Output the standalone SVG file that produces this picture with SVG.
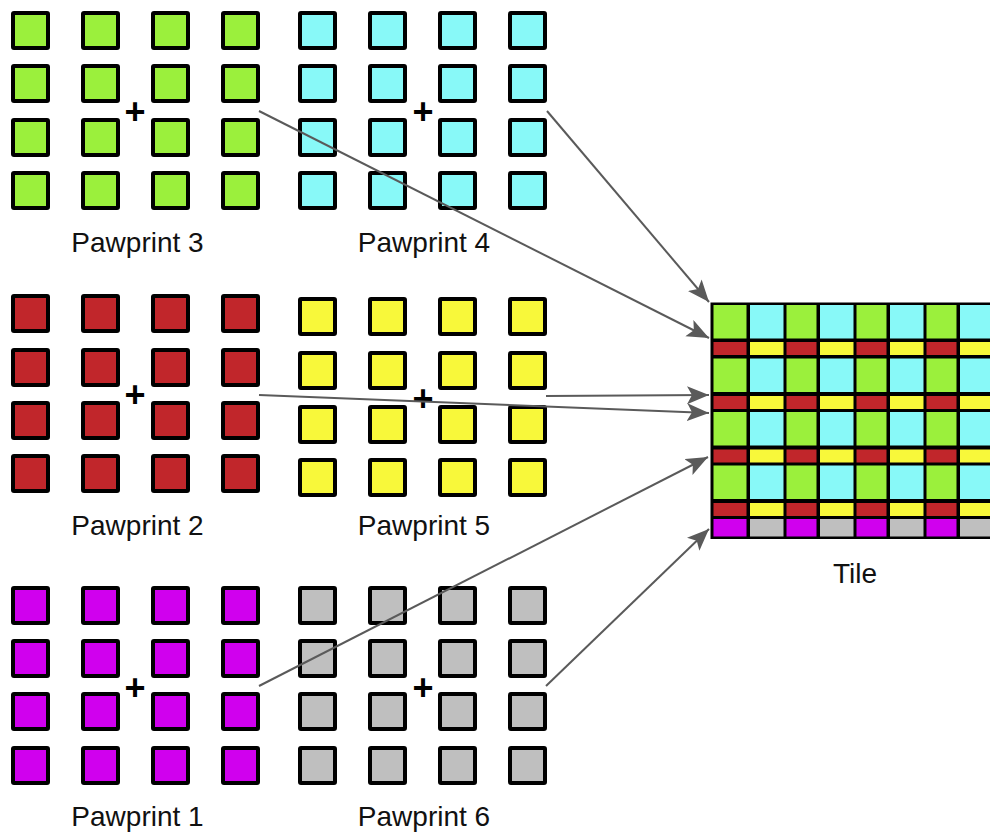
<svg xmlns="http://www.w3.org/2000/svg" width="990" height="832" viewBox="0 0 990 832">
<style>
.sq{stroke:#000;stroke-width:4}
.g{fill:#9BF03C}.c{fill:#88F9F8}.r{fill:#C1262B}.y{fill:#F8F83A}.m{fill:#D000EE}.k{fill:#BFBFBF}
.lbl{font-family:"Liberation Sans",Arial,sans-serif;font-size:28px;fill:#111;text-anchor:middle}
.plus{font-family:"Liberation Sans",Arial,sans-serif;font-size:36px;font-weight:bold;fill:#000;text-anchor:middle}
.conn{stroke:#5a5a5a;stroke-width:2;fill:none;marker-end:url(#ah)}
</style>
<defs>
<marker id="ah" markerUnits="userSpaceOnUse" markerWidth="24" markerHeight="20" refX="22" refY="9" orient="auto">
<path d="M0,0 L22,9 L0,18 L5,9 Z" fill="#5a5a5a"/>
</marker>
<g id="sqg"><rect class="sq" x="2" y="2" width="35" height="35" rx="1"/></g>
</defs>
<rect width="990" height="832" fill="#fff"/>

<g id="pawprint3">
<g class="g">
<use href="#sqg" x="11" y="11"/><use href="#sqg" x="81" y="11"/><use href="#sqg" x="151" y="11"/><use href="#sqg" x="221" y="11"/>
<use href="#sqg" x="11" y="64"/><use href="#sqg" x="81" y="64"/><use href="#sqg" x="151" y="64"/><use href="#sqg" x="221" y="64"/>
<use href="#sqg" x="11" y="118"/><use href="#sqg" x="81" y="118"/><use href="#sqg" x="151" y="118"/><use href="#sqg" x="221" y="118"/>
<use href="#sqg" x="11" y="171"/><use href="#sqg" x="81" y="171"/><use href="#sqg" x="151" y="171"/><use href="#sqg" x="221" y="171"/>
</g>
<text class="plus" x="135" y="123.5">+</text>
<text class="lbl" x="137.5" y="252">Pawprint 3</text>
</g>

<g id="pawprint4">
<g class="c">
<use href="#sqg" x="298" y="11"/><use href="#sqg" x="368" y="11"/><use href="#sqg" x="438" y="11"/><use href="#sqg" x="508" y="11"/>
<use href="#sqg" x="298" y="64"/><use href="#sqg" x="368" y="64"/><use href="#sqg" x="438" y="64"/><use href="#sqg" x="508" y="64"/>
<use href="#sqg" x="298" y="118"/><use href="#sqg" x="368" y="118"/><use href="#sqg" x="438" y="118"/><use href="#sqg" x="508" y="118"/>
<use href="#sqg" x="298" y="171"/><use href="#sqg" x="368" y="171"/><use href="#sqg" x="438" y="171"/><use href="#sqg" x="508" y="171"/>
</g>
<text class="plus" x="423" y="123.5">+</text>
<text class="lbl" x="424" y="252">Pawprint 4</text>
</g>

<g id="pawprint2">
<g class="r">
<use href="#sqg" x="11" y="294"/><use href="#sqg" x="81" y="294"/><use href="#sqg" x="151" y="294"/><use href="#sqg" x="221" y="294"/>
<use href="#sqg" x="11" y="348"/><use href="#sqg" x="81" y="348"/><use href="#sqg" x="151" y="348"/><use href="#sqg" x="221" y="348"/>
<use href="#sqg" x="11" y="401"/><use href="#sqg" x="81" y="401"/><use href="#sqg" x="151" y="401"/><use href="#sqg" x="221" y="401"/>
<use href="#sqg" x="11" y="454"/><use href="#sqg" x="81" y="454"/><use href="#sqg" x="151" y="454"/><use href="#sqg" x="221" y="454"/>
</g>
<text class="plus" x="135" y="406.5">+</text>
<text class="lbl" x="137.5" y="535">Pawprint 2</text>
</g>

<g id="pawprint5">
<g class="y">
<use href="#sqg" x="298" y="297"/><use href="#sqg" x="368" y="297"/><use href="#sqg" x="438" y="297"/><use href="#sqg" x="508" y="297"/>
<use href="#sqg" x="298" y="351"/><use href="#sqg" x="368" y="351"/><use href="#sqg" x="438" y="351"/><use href="#sqg" x="508" y="351"/>
<use href="#sqg" x="298" y="405"/><use href="#sqg" x="368" y="405"/><use href="#sqg" x="438" y="405"/><use href="#sqg" x="508" y="405"/>
<use href="#sqg" x="298" y="458"/><use href="#sqg" x="368" y="458"/><use href="#sqg" x="438" y="458"/><use href="#sqg" x="508" y="458"/>
</g>
<text class="plus" x="423" y="411">+</text>
<text class="lbl" x="424" y="535">Pawprint 5</text>
</g>

<g id="pawprint1">
<g class="m">
<use href="#sqg" x="11" y="586"/><use href="#sqg" x="81" y="586"/><use href="#sqg" x="151" y="586"/><use href="#sqg" x="221" y="586"/>
<use href="#sqg" x="11" y="639"/><use href="#sqg" x="81" y="639"/><use href="#sqg" x="151" y="639"/><use href="#sqg" x="221" y="639"/>
<use href="#sqg" x="11" y="692"/><use href="#sqg" x="81" y="692"/><use href="#sqg" x="151" y="692"/><use href="#sqg" x="221" y="692"/>
<use href="#sqg" x="11" y="746"/><use href="#sqg" x="81" y="746"/><use href="#sqg" x="151" y="746"/><use href="#sqg" x="221" y="746"/>
</g>
<text class="plus" x="135" y="699.5">+</text>
<text class="lbl" x="137.5" y="826">Pawprint 1</text>
</g>

<g id="pawprint6">
<g class="k">
<use href="#sqg" x="298" y="586"/><use href="#sqg" x="368" y="586"/><use href="#sqg" x="438" y="586"/><use href="#sqg" x="508" y="586"/>
<use href="#sqg" x="298" y="639"/><use href="#sqg" x="368" y="639"/><use href="#sqg" x="438" y="639"/><use href="#sqg" x="508" y="639"/>
<use href="#sqg" x="298" y="692"/><use href="#sqg" x="368" y="692"/><use href="#sqg" x="438" y="692"/><use href="#sqg" x="508" y="692"/>
<use href="#sqg" x="298" y="746"/><use href="#sqg" x="368" y="746"/><use href="#sqg" x="438" y="746"/><use href="#sqg" x="508" y="746"/>
</g>
<text class="plus" x="423" y="699.5">+</text>
<text class="lbl" x="424" y="826">Pawprint 6</text>
</g>

<g id="tile">
<rect x="710.5" y="302.5" width="290" height="236.5" fill="#000"/>
<g class="g">
<rect x="713.5" y="305" width="33" height="33.5"/><rect x="786.5" y="305" width="30" height="33.5"/><rect x="856.5" y="305" width="30" height="33.5"/><rect x="926.5" y="305" width="30" height="33.5"/>
<rect x="713.5" y="358.5" width="33" height="33.5"/><rect x="786.5" y="358.5" width="30" height="33.5"/><rect x="856.5" y="358.5" width="30" height="33.5"/><rect x="926.5" y="358.5" width="30" height="33.5"/>
<rect x="713.5" y="412" width="33" height="33.5"/><rect x="786.5" y="412" width="30" height="33.5"/><rect x="856.5" y="412" width="30" height="33.5"/><rect x="926.5" y="412" width="30" height="33.5"/>
<rect x="713.5" y="465.5" width="33" height="33.5"/><rect x="786.5" y="465.5" width="30" height="33.5"/><rect x="856.5" y="465.5" width="30" height="33.5"/><rect x="926.5" y="465.5" width="30" height="33.5"/>
</g>
<g class="c">
<rect x="750" y="305" width="33.5" height="33.5"/><rect x="820" y="305" width="33.5" height="33.5"/><rect x="890" y="305" width="33.5" height="33.5"/><rect x="960" y="305" width="40" height="33.5"/>
<rect x="750" y="358.5" width="33.5" height="33.5"/><rect x="820" y="358.5" width="33.5" height="33.5"/><rect x="890" y="358.5" width="33.5" height="33.5"/><rect x="960" y="358.5" width="40" height="33.5"/>
<rect x="750" y="412" width="33.5" height="33.5"/><rect x="820" y="412" width="33.5" height="33.5"/><rect x="890" y="412" width="33.5" height="33.5"/><rect x="960" y="412" width="40" height="33.5"/>
<rect x="750" y="465.5" width="33.5" height="33.5"/><rect x="820" y="465.5" width="33.5" height="33.5"/><rect x="890" y="465.5" width="33.5" height="33.5"/><rect x="960" y="465.5" width="40" height="33.5"/>
</g>
<g class="r">
<rect x="713.5" y="342" width="33" height="13"/><rect x="786.5" y="342" width="30" height="13"/><rect x="856.5" y="342" width="30" height="13"/><rect x="926.5" y="342" width="30" height="13"/>
<rect x="713.5" y="396" width="33" height="13"/><rect x="786.5" y="396" width="30" height="13"/><rect x="856.5" y="396" width="30" height="13"/><rect x="926.5" y="396" width="30" height="13"/>
<rect x="713.5" y="449.5" width="33" height="13"/><rect x="786.5" y="449.5" width="30" height="13"/><rect x="856.5" y="449.5" width="30" height="13"/><rect x="926.5" y="449.5" width="30" height="13"/>
<rect x="713.5" y="503" width="33" height="13"/><rect x="786.5" y="503" width="30" height="13"/><rect x="856.5" y="503" width="30" height="13"/><rect x="926.5" y="503" width="30" height="13"/>
</g>
<g class="y">
<rect x="750" y="342" width="33.5" height="13"/><rect x="820" y="342" width="33.5" height="13"/><rect x="890" y="342" width="33.5" height="13"/><rect x="960" y="342" width="40" height="13"/>
<rect x="750" y="396" width="33.5" height="13"/><rect x="820" y="396" width="33.5" height="13"/><rect x="890" y="396" width="33.5" height="13"/><rect x="960" y="396" width="40" height="13"/>
<rect x="750" y="449.5" width="33.5" height="13"/><rect x="820" y="449.5" width="33.5" height="13"/><rect x="890" y="449.5" width="33.5" height="13"/><rect x="960" y="449.5" width="40" height="13"/>
<rect x="750" y="503" width="33.5" height="13"/><rect x="820" y="503" width="33.5" height="13"/><rect x="890" y="503" width="33.5" height="13"/><rect x="960" y="503" width="40" height="13"/>
</g>
<g class="m">
<rect x="713.5" y="519" width="33" height="17.5"/><rect x="786.5" y="519" width="30" height="17.5"/><rect x="856.5" y="519" width="30" height="17.5"/><rect x="926.5" y="519" width="30" height="17.5"/>
</g>
<g class="k">
<rect x="750" y="519" width="33.5" height="17.5"/><rect x="820" y="519" width="33.5" height="17.5"/><rect x="890" y="519" width="33.5" height="17.5"/><rect x="960" y="519" width="40" height="17.5"/>
</g>
<text class="lbl" x="855" y="583">Tile</text>
</g>

<g id="connectors">
<line class="conn" x1="259" y1="111" x2="709" y2="338"/>
<line class="conn" x1="547" y1="111" x2="709" y2="302"/>
<line class="conn" x1="259" y1="395" x2="709" y2="413"/>
<line class="conn" x1="546" y1="396" x2="709" y2="395"/>
<line class="conn" x1="259" y1="686" x2="708" y2="457"/>
<line class="conn" x1="546" y1="686" x2="709" y2="529"/>
</g>
</svg>
